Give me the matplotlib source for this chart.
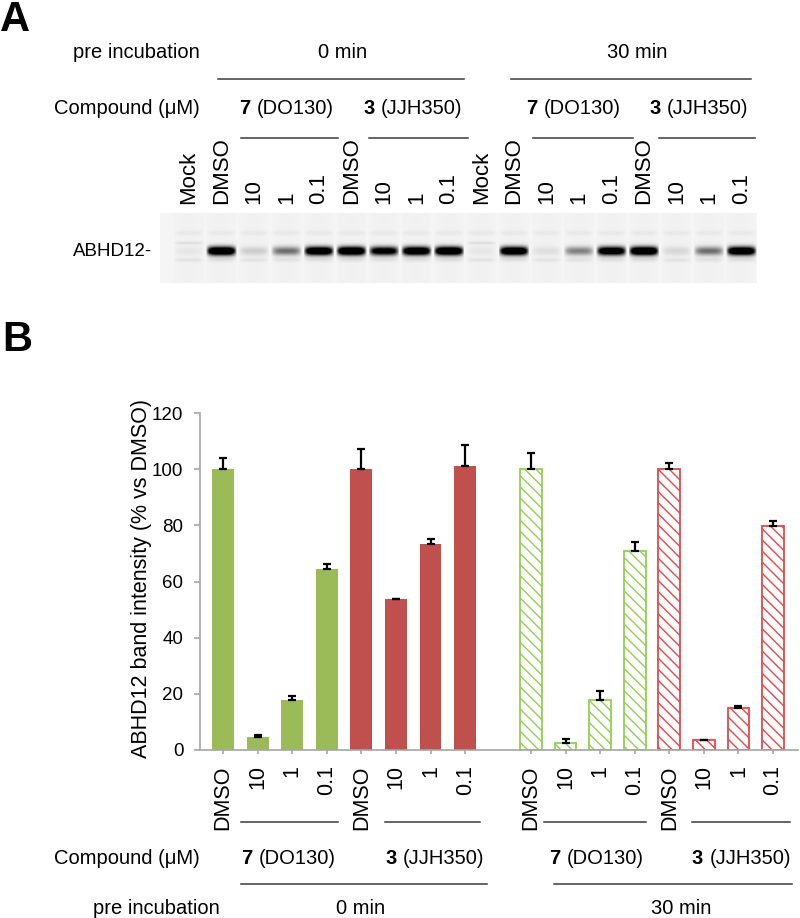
import numpy as np
import matplotlib
matplotlib.use('Agg')
import matplotlib.pyplot as plt

plt.rcParams['font.family'] = ['Liberation Sans', 'DejaVu Sans']
plt.rcParams['hatch.linewidth'] = 1.0

# panel B: ABHD12 band intensity (% vs DMSO), upward error only
doses = ['DMSO', '10', '1', '0.1']
do130_0 = [100, 4.7, 17.7, 64.3]
do130_0_err = [3.8, 0.7, 1.6, 1.9]
jjh350_0 = [100.1, 53.6, 73.5, 101.3]
jjh350_0_err = [7.1, 0.3, 1.6, 7.4]
do130_30 = [100, 2.5, 17.8, 70.7]
do130_30_err = [5.8, 1.3, 3.2, 3.5]
jjh350_30 = [100, 3.5, 14.9, 79.6]
jjh350_30_err = [2.1, 0.2, 0.6, 2.1]

# panel A: gel lanes and rough band darkness
lane_labels = ['Mock', 'DMSO', '10', '1', '0.1', 'DMSO', '10', '1', '0.1'] * 2
band = [0.03, 1.0, 0.1, 0.35, 0.95, 1.0, 0.8, 0.95, 1.0,
        0.03, 0.95, 0.05, 0.3, 0.9, 1.0, 0.07, 0.35, 0.95]

fig = plt.figure(figsize=(8, 9.18), dpi=100)

# overlay in pixel coords for labels and bracket lines
ov = fig.add_axes([0, 0, 1, 1])
ov.set_xlim(0, 800)
ov.set_ylim(918, 0)
ov.axis('off')

def txt(x, y, s, **kw):
    kw.setdefault('fontsize', 14.5)
    kw.setdefault('va', 'center')
    ov.text(x, y, s, **kw)

def hline(x0, x1, y):
    ov.plot([x0, x1], [y, y], color='#3a3a3a', lw=1.1)

# ---- panel A ----
txt(0, 0, 'A', fontsize=30, fontweight='bold', ha='left', va='top')
txt(200, 53, 'pre incubation', ha='right')
txt(343, 53, '0 min', ha='center')
txt(637, 53, '30 min', ha='center')
hline(218, 464, 79)
hline(511, 751, 79)
txt(200, 108, 'Compound (μM)', ha='right')
for x7, x3 in [(239, 363), (526, 649)]:
    txt(x7, 108, '7', fontweight='bold')
    txt(x7 + 18, 108, '(DO130)')
    txt(x3, 108, '3', fontweight='bold')
    txt(x3 + 18, 108, '(JJH350)')
for x0, x1 in [(241, 338), (369, 468), (533, 633), (659, 755)]:
    hline(x0, x1, 138)

lane_x = [189 + 32.5 * i for i in range(len(lane_labels))]
for x, lab in zip(lane_x, lane_labels):
    ov.text(x, 204, lab, rotation=90, ha='center', va='bottom', fontsize=16)

txt(152, 252, 'ABHD12-', ha='right', fontsize=13.5)

gx0, gx1, gy0, gy1 = 160, 757, 213, 283
gax = fig.add_axes([gx0 / 800, 1 - gy1 / 918, (gx1 - gx0) / 800, (gy1 - gy0) / 918])
xx, yy = np.meshgrid(np.arange(gx0, gx1) + 0.5, np.arange(gy0, gy1) + 0.5)
dark = np.full(xx.shape, 0.04)
for i, (cx, b) in enumerate(zip(lane_x, band)):
    px = np.clip(1 - (np.abs(xx - cx) / 15.5) ** 4, 0, 1)
    dark += 1.5 * b * px * np.exp(-((yy - 251) / 4.3) ** 2)
    dark += 0.06 * px * np.exp(-((yy - 260) / 2.0) ** 2)
    dark += 0.04 * px * np.exp(-((yy - 233) / 2.5) ** 2)
    if lane_labels[i] == 'Mock':
        dark += 0.08 * px * np.exp(-((yy - 243) / 1.5) ** 2)
    dark += 0.015 * px
gax.imshow(1 - np.clip(dark, 0, 1), cmap='gray', vmin=0, vmax=1,
           aspect='auto', interpolation='bilinear')
gax.axis('off')

# ---- panel B ----
txt(2, 340, 'B', fontsize=30, fontweight='bold', ha='left')

ax = fig.add_axes([200 / 800, 1 - 750 / 918, 598 / 800, 337 / 918])
pos = np.arange(8)
pos2 = pos + 8.9
w = 0.63
ekw = dict(ecolor='black', elinewidth=1.6, capsize=3.2, capthick=1.6)
z = [0, 0, 0, 0]
ax.bar(pos[:4], do130_0, w, color='#9BBB59', yerr=[z, do130_0_err], error_kw=ekw)
ax.bar(pos[4:], jjh350_0, w, color='#C0504D', yerr=[z, jjh350_0_err], error_kw=ekw)
ax.bar(pos2[:4], do130_30, w, color='white', edgecolor='#92D050', hatch='\\\\\\',
       linewidth=1.3, yerr=[z, do130_30_err], error_kw=ekw)
ax.bar(pos2[4:], jjh350_30, w, color='white', edgecolor='#E8464A', hatch='\\\\\\',
       linewidth=1.3, yerr=[z, jjh350_30_err], error_kw=ekw)

ax.set_xlim(-0.665, 16.62)
ax.set_ylim(0, 120)
ax.set_yticks(np.arange(0, 121, 20))
ax.set_xticks(np.concatenate([pos, pos2]))
ax.set_xticklabels(doses * 4, rotation=90, fontsize=15.5)
ax.tick_params(axis='y', labelsize=13.5, length=4, pad=8, color='#a6a6a6', width=1.2)
ax.tick_params(axis='x', length=3, pad=8, color='#a6a6a6', width=1.2)
for s in ['top', 'right']:
    ax.spines[s].set_visible(False)
for s in ['left', 'bottom']:
    ax.spines[s].set_color('#a6a6a6')
    ax.spines[s].set_linewidth(1.2)
ax.patch.set_alpha(0)

txt(142, 578, 'ABHD12 band intensity (% vs DMSO)', rotation=90, ha='center', fontsize=15.5)

for x0, x1 in [(241, 338), (385, 480), (544, 646), (692, 790)]:
    hline(x0, x1, 822)
txt(200, 858, 'Compound (μM)', ha='right')
for x7, x3 in [(241, 385), (549, 692)]:
    txt(x7, 858, '7', fontweight='bold')
    txt(x7 + 18, 858, '(DO130)')
    txt(x3, 858, '3', fontweight='bold')
    txt(x3 + 18, 858, '(JJH350)')
hline(241, 487, 884)
hline(554, 792, 884)
txt(220, 908, 'pre incubation', ha='right')
txt(361, 908, '0 min', ha='center')
txt(681, 908, '30 min', ha='center')

fig.savefig('out.png', dpi=100)
